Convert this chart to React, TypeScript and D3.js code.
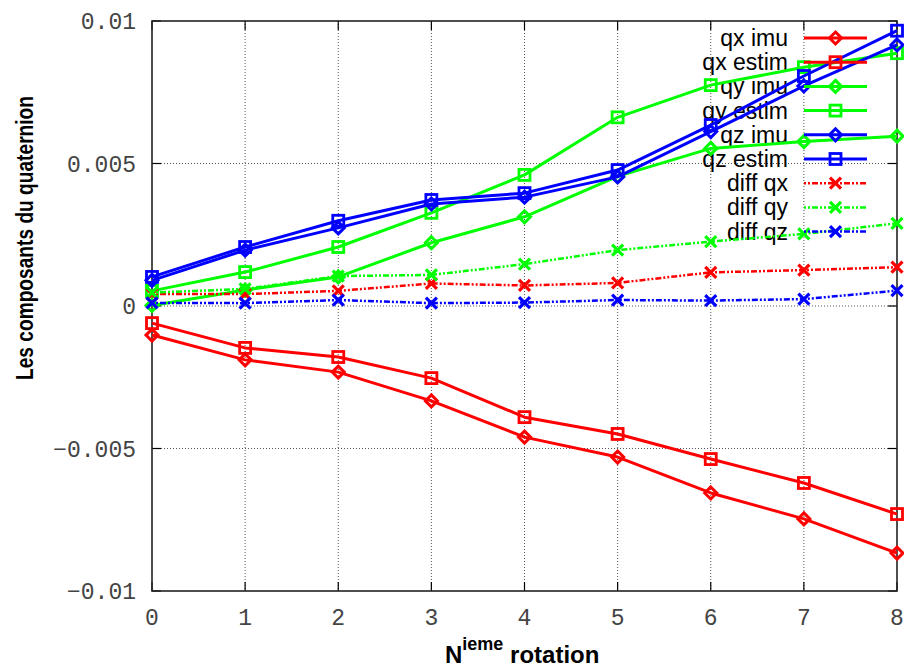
import React from "react";
import * as d3 from "d3";

const steps = [0, 1, 2, 3, 4, 5, 6, 7, 8];
const qxImu = [-0.00102, -0.00189, -0.00232, -0.00333, -0.0046, -0.0053, -0.00656, -0.00747, -0.00867];
const qxEstim = [-0.0006, -0.00147, -0.00179, -0.00253, -0.0039, -0.00449, -0.00537, -0.00621, -0.0073];
const qyImu = [0.00002, 0.00056, 0.00102, 0.00222, 0.00313, 0.00455, 0.00553, 0.00577, 0.00596];
const qyEstim = [0.00053, 0.00119, 0.00207, 0.00327, 0.0046, 0.00662, 0.00775, 0.00838, 0.00887];
const qzImu = [0.0009, 0.00196, 0.00274, 0.00358, 0.00382, 0.00453, 0.00612, 0.00772, 0.00916];
const qzEstim = [0.00102, 0.00207, 0.00299, 0.00372, 0.00396, 0.00477, 0.00635, 0.00807, 0.00966];
const diffQx = [0.00042, 0.00042, 0.00053, 0.00079, 0.00072, 0.00081, 0.00118, 0.00126, 0.00136];
const diffQy = [0.00047, 0.0006, 0.00105, 0.00109, 0.00147, 0.00196, 0.00226, 0.00253, 0.0029];
const diffQz = [0.00011, 0.0001, 0.00021, 0.0001, 0.00012, 0.00021, 0.00019, 0.00024, 0.00054];

const yTicks = [-0.01, -0.005, 0, 0.005, 0.01];
const yTickLabels = ["\u22120.01", "\u22120.005", "0", "0.005", "0.01"];
const xTicks = [0, 1, 2, 3, 4, 5, 6, 7, 8];

const RED = "#ff0000";
const GREEN = "#00ff00";
const BLUE = "#0000ff";

type Marker = "diamond" | "square" | "x";
interface Series { name: string; values: number[]; color: string; marker: Marker; dashed: boolean; }

const series: Series[] = [
  { name: "qx imu", values: qxImu, color: RED, marker: "diamond", dashed: false },
  { name: "qx estim", values: qxEstim, color: RED, marker: "square", dashed: false },
  { name: "qy imu", values: qyImu, color: GREEN, marker: "diamond", dashed: false },
  { name: "qy estim", values: qyEstim, color: GREEN, marker: "square", dashed: false },
  { name: "qz imu", values: qzImu, color: BLUE, marker: "diamond", dashed: false },
  { name: "qz estim", values: qzEstim, color: BLUE, marker: "square", dashed: false },
  { name: "diff qx", values: diffQx, color: RED, marker: "x", dashed: true },
  { name: "diff qy", values: diffQy, color: GREEN, marker: "x", dashed: true },
  { name: "diff qz", values: diffQz, color: BLUE, marker: "x", dashed: true },
];

const W = 904, H = 671;
const L = 152, R = 897, T = 21, B = 591;
const DASH = "2,2,2,2,6,2";

function MarkerShape({ type, x, y, color }: { type: Marker; x: number; y: number; color: string }) {
  if (type === "diamond") {
    const r = 6;
    return <path d={`M${x},${y - r}L${x + r},${y}L${x},${y + r}L${x - r},${y}Z`} fill="none" stroke={color} strokeWidth={3} />;
  }
  if (type === "square") {
    const r = 5.5;
    return <rect x={x - r} y={y - r} width={2 * r} height={2 * r} fill="none" stroke={color} strokeWidth={2.8} />;
  }
  const r = 5.5;
  return <path d={`M${x - r},${y - r}L${x + r},${y + r}M${x - r},${y + r}L${x + r},${y - r}`} stroke={color} strokeWidth={3.2} fill="none" />;
}

export default function App() {
  const x = d3.scaleLinear().domain([0, 8]).range([L, R]);
  const y = d3.scaleLinear().domain([-0.01, 0.01]).range([B, T]);
  const line = d3.line<number>().x((_, i) => x(steps[i])).y((d) => y(d));

  const legendX0 = 804, legendX1 = 867, legendTextX = 788, legendY0 = 38, legendDy = 24.2;
  const mono = "Liberation Mono, DejaVu Sans Mono, monospace";

  return (
    <svg width={W} height={H} style={{ position: "absolute", left: 0, top: 0, background: "#fff" }}>
      {xTicks.filter((t) => t > 0 && t < 8).map((t) => (
        <line key={"gx" + t} x1={x(t)} x2={x(t)} y1={T} y2={B} stroke="#555" strokeWidth={1} strokeDasharray="1,2" />
      ))}
      {yTicks.filter((t) => t > -0.01 && t < 0.01).map((t) => (
        <line key={"gy" + t} x1={L} x2={R} y1={y(t)} y2={y(t)} stroke="#555" strokeWidth={1} strokeDasharray="1,2" />
      ))}
      {yTicks.map((t) => (
        <g key={"ty" + t}>
          <line x1={L} x2={L + 9} y1={y(t)} y2={y(t)} stroke="#000" strokeWidth={1.2} />
          <line x1={R - 9} x2={R} y1={y(t)} y2={y(t)} stroke="#000" strokeWidth={1.2} />
        </g>
      ))}
      {xTicks.map((t) => (
        <g key={"tx" + t}>
          <line x1={x(t)} x2={x(t)} y1={B} y2={B - 9} stroke="#000" strokeWidth={1.2} />
          <line x1={x(t)} x2={x(t)} y1={T} y2={T + 9} stroke="#000" strokeWidth={1.2} />
        </g>
      ))}
      <rect x={L} y={T} width={R - L} height={B - T} fill="none" stroke="#222" strokeWidth={1.6} />
      {yTicks.map((t, i) => (
        <text key={"ly" + t} x={136} y={y(t)} dy="0.36em" textAnchor="end" fontFamily={mono} fontSize={23} fill="#444">
          {yTickLabels[i]}
        </text>
      ))}
      {xTicks.map((t) => (
        <text key={"lx" + t} x={x(t)} y={625} textAnchor="middle" fontFamily={mono} fontSize={23} fill="#444">
          {String(t)}
        </text>
      ))}
      <text x={25} y={238} transform="rotate(-90 25 238)" textAnchor="middle" dy="0.36em" fontFamily="Liberation Sans, Arial, sans-serif" fontWeight="bold" fontSize={23} textLength={284} lengthAdjust="spacingAndGlyphs">
        Les composants du quaternion
      </text>
      <text x={445} y={663} fontFamily="Liberation Sans, Arial, sans-serif" fontWeight="bold" fontSize={24}>
        <tspan>N</tspan>
        <tspan dy={-13} fontSize={18}>ieme</tspan>
        <tspan dy={13}> rotation</tspan>
      </text>
      {series.map((s, i) => (
        <text key={"lt" + s.name} x={legendTextX} y={legendY0 + i * legendDy} dy="0.35em" textAnchor="end" fontFamily="Liberation Sans, Arial, sans-serif" fontSize={23} fill="#000">
          {s.name}
        </text>
      ))}
      {series.map((s) => (
        <g key={"s" + s.name}>
          <path d={line(s.values) || ""} fill="none" stroke={s.color} strokeWidth={s.dashed ? 2.5 : 3} strokeDasharray={s.dashed ? DASH : undefined} strokeLinejoin="round" />
          {s.values.map((v, i) => (
            <MarkerShape key={i} type={s.marker} x={x(steps[i])} y={y(v)} color={s.color} />
          ))}
        </g>
      ))}
      {series.map((s, i) => {
        const yy = legendY0 + i * legendDy;
        return (
          <g key={"ls" + s.name}>
            <line x1={legendX0} x2={legendX1} y1={yy} y2={yy} stroke={s.color} strokeWidth={s.dashed ? 2.5 : 3} strokeDasharray={s.dashed ? DASH : undefined} />
            <MarkerShape type={s.marker} x={(legendX0 + legendX1) / 2} y={yy} color={s.color} />
          </g>
        );
      })}
    </svg>
  );
}
